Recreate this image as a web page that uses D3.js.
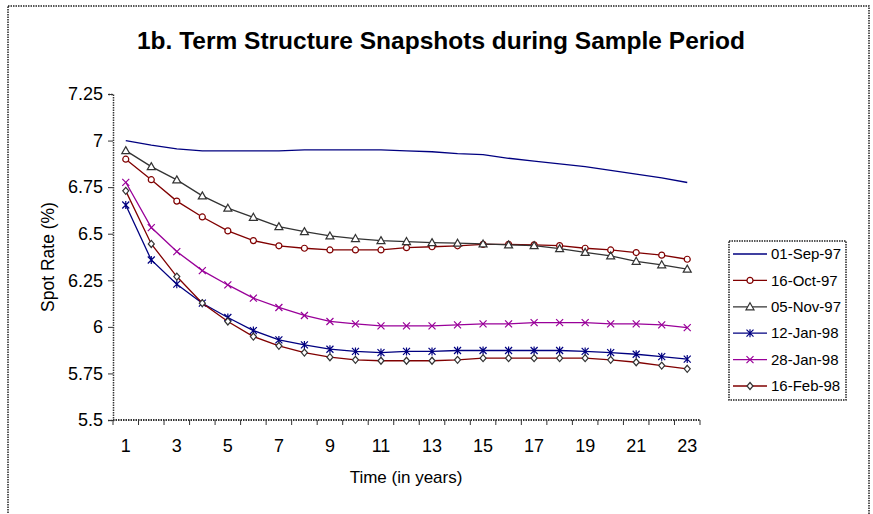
<!doctype html>
<html lang="en">
<head>
<meta charset="UTF-8">
<title>1b. Term Structure Snapshots</title>
<style>
    body { margin: 0; background: #fff; }
    svg { display: block; font-family: "Liberation Sans", Arial, sans-serif; }
    .axis path, .axis line { stroke: #333; }
</style>
</head>
<body>
<svg id="chart" width="873" height="514"></svg>
<script src="https://cdn.jsdelivr.net/npm/d3@7"></script>
<script>
    // maturities (years)
    var years = [1,2,3,4,5,6,7,8,9,10,11,12,13,14,15,16,17,18,19,20,21,22,23];
    var yTicks = [5.5, 5.75, 6, 6.25, 6.5, 6.75, 7, 7.25];
    var xTickLabels = [1,3,5,7,9,11,13,15,17,19,21,23];

    var sep97 = [7.00,6.975,6.955,6.945,6.945,6.945,6.945,6.95,6.95,6.95,6.95,6.945,6.94,6.93,6.925,6.905,6.89,6.875,6.86,6.84,6.82,6.80,6.775];
    var oct97 = [6.90,6.79,6.675,6.59,6.515,6.463,6.435,6.422,6.413,6.413,6.413,6.425,6.43,6.435,6.443,6.443,6.44,6.436,6.422,6.413,6.399,6.385,6.363];
    var nov97 = [6.946,6.86,6.789,6.703,6.637,6.588,6.538,6.511,6.488,6.474,6.463,6.458,6.452,6.449,6.445,6.44,6.436,6.42,6.40,6.381,6.352,6.333,6.31];
    var jan12 = [6.654,6.359,6.229,6.127,6.05,5.98,5.93,5.903,5.88,5.868,5.862,5.868,5.868,5.873,5.873,5.873,5.873,5.873,5.868,5.862,5.853,5.84,5.827];
    var jan28 = [6.776,6.533,6.404,6.302,6.225,6.154,6.104,6.061,6.029,6.016,6.005,6.005,6.005,6.011,6.016,6.016,6.023,6.023,6.023,6.016,6.016,6.011,5.996];
    var feb98 = [6.73,6.445,6.27,6.127,6.029,5.948,5.898,5.862,5.837,5.823,5.818,5.818,5.818,5.823,5.832,5.832,5.832,5.832,5.832,5.823,5.81,5.792,5.775];

    var series = [
        { name: '01-Sep-97', values: sep97, line: '#000080', marker: null },
        { name: '16-Oct-97', values: oct97, line: '#800000', marker: 'circle', mstroke: '#800000' },
        { name: '05-Nov-97', values: nov97, line: '#333333', marker: 'triangle', mstroke: '#333333' },
        { name: '12-Jan-98', values: jan12, line: '#000080', marker: 'asterisk', mstroke: '#000080' },
        { name: '28-Jan-98', values: jan28, line: '#990099', marker: 'cross', mstroke: '#990099' },
        { name: '16-Feb-98', values: feb98, line: '#800000', marker: 'diamond', mstroke: '#333333' }
    ];

    var svg = d3.select('#chart');
    var plotLeft = 113, plotRight = 700, plotTop = 94, plotBottom = 420;

    var x = d3.scaleBand().domain(years).range([plotLeft, plotRight]);
    var y = d3.scaleLinear().domain([5.5, 7.25]).range([plotBottom, plotTop]);
    function cx(yr) { return x(yr) + x.bandwidth() / 2; }

    // outer border
    svg.append('rect')
        .attr('x', 8).attr('y', 6).attr('width', 861).attr('height', 520)
        .attr('fill', 'none').attr('stroke', '#222').attr('stroke-width', 1.5)
        .attr('stroke-dasharray', '1.5,1');

    // title
    svg.append('text')
        .attr('x', 441).attr('y', 49)
        .attr('text-anchor', 'middle')
        .attr('font-size', 24.5).attr('font-weight', 'bold')
        .text('1b. Term Structure Snapshots during Sample Period');

    // y axis
    var yAxis = svg.append('g')
        .attr('class', 'axis')
        .attr('transform', 'translate(' + plotLeft + ',0)')
        .call(d3.axisLeft(y).tickValues(yTicks).tickSize(5).tickPadding(5).tickFormat(d3.format('')));
    yAxis.select('.domain').attr('stroke-width', 1.5).attr('stroke-dasharray', '1.5,1');
    yAxis.selectAll('text').attr('font-size', 18).attr('fill', '#000')
        .attr('font-family', '"Liberation Sans", Arial, sans-serif');

    // x axis: labels centred on categories, ticks on category boundaries
    var xAxis = svg.append('g')
        .attr('class', 'axis')
        .attr('transform', 'translate(0,' + plotBottom + ')')
        .call(d3.axisBottom(x).tickSize(0).tickPadding(19)
            .tickFormat(function(d) { return xTickLabels.indexOf(d) >= 0 ? d : ''; }));
    xAxis.select('.domain').remove();
    xAxis.selectAll('text').attr('font-size', 18).attr('fill', '#000')
        .attr('font-family', '"Liberation Sans", Arial, sans-serif');
    xAxis.append('line')
        .attr('x1', plotLeft).attr('x2', plotRight)
        .attr('stroke', '#333').attr('stroke-width', 2).attr('stroke-dasharray', '1.5,1');
    xAxis.selectAll('.bound')
        .data(years.concat([null]))
        .enter().append('line')
        .attr('class', 'bound')
        .attr('x1', function(d) { return d === null ? plotRight : x(d); })
        .attr('x2', function(d) { return d === null ? plotRight : x(d); })
        .attr('y1', 0).attr('y2', 5)
        .attr('stroke', '#333');

    // axis titles
    svg.append('text')
        .attr('x', 406).attr('y', 483)
        .attr('text-anchor', 'middle').attr('font-size', 17)
        .text('Time (in years)');
    svg.append('text')
        .attr('transform', 'translate(54,257) rotate(-90)')
        .attr('text-anchor', 'middle').attr('font-size', 17.5)
        .text('Spot Rate (%)');

    var line = d3.line()
        .x(function(d, i) { return cx(years[i]); })
        .y(function(d) { return y(d); });

    function drawMarker(g, type, stroke) {
        if (type === 'circle') {
            g.append('circle').attr('r', 3).attr('fill', '#fff').attr('stroke', stroke).attr('stroke-width', 1.2);
        } else if (type === 'triangle') {
            g.append('path').attr('d', 'M0,-4L4,3L-4,3Z').attr('fill', '#fff').attr('stroke', stroke).attr('stroke-width', 1.2);
        } else if (type === 'diamond') {
            g.append('path').attr('d', 'M0,-3.5L3,0L0,3.5L-3,0Z').attr('fill', '#fff').attr('stroke', stroke).attr('stroke-width', 1.2);
        } else if (type === 'cross') {
            g.append('path').attr('d', 'M-3.5,-3.5L3.5,3.5M-3.5,3.5L3.5,-3.5').attr('stroke', stroke).attr('stroke-width', 1.2);
        } else if (type === 'asterisk') {
            g.append('path').attr('d', 'M-3.5,-3.5L3.5,3.5M-3.5,3.5L3.5,-3.5M0,-4L0,4').attr('stroke', stroke).attr('stroke-width', 1.2);
        }
    }

    series.forEach(function(s) {
        svg.append('path')
            .attr('d', line(s.values))
            .attr('fill', 'none')
            .attr('stroke', s.line)
            .attr('stroke-width', 1.3);
        if (s.marker) {
            s.values.forEach(function(v, i) {
                var g = svg.append('g').attr('transform', 'translate(' + cx(years[i]) + ',' + y(v) + ')');
                drawMarker(g, s.marker, s.mstroke);
            });
        }
    });

    // legend
    var legend = svg.append('g');
    legend.append('rect')
        .attr('x', 729).attr('y', 241).attr('width', 117).attr('height', 159)
        .attr('fill', '#fff').attr('stroke', '#222').attr('stroke-width', 1.5)
        .attr('stroke-dasharray', '1.5,1');
    series.forEach(function(s, i) {
        var ly = 254 + i * 26.4;
        legend.append('line')
            .attr('x1', 733).attr('x2', 767).attr('y1', ly).attr('y2', ly)
            .attr('stroke', s.line).attr('stroke-width', 1.3);
        if (s.marker) {
            drawMarker(legend.append('g').attr('transform', 'translate(750,' + ly + ')'), s.marker, s.mstroke);
        }
        legend.append('text')
            .attr('x', 771).attr('y', ly).attr('dy', '0.35em')
            .attr('font-size', 15)
            .text(s.name);
    });
</script>
</body>
</html>
